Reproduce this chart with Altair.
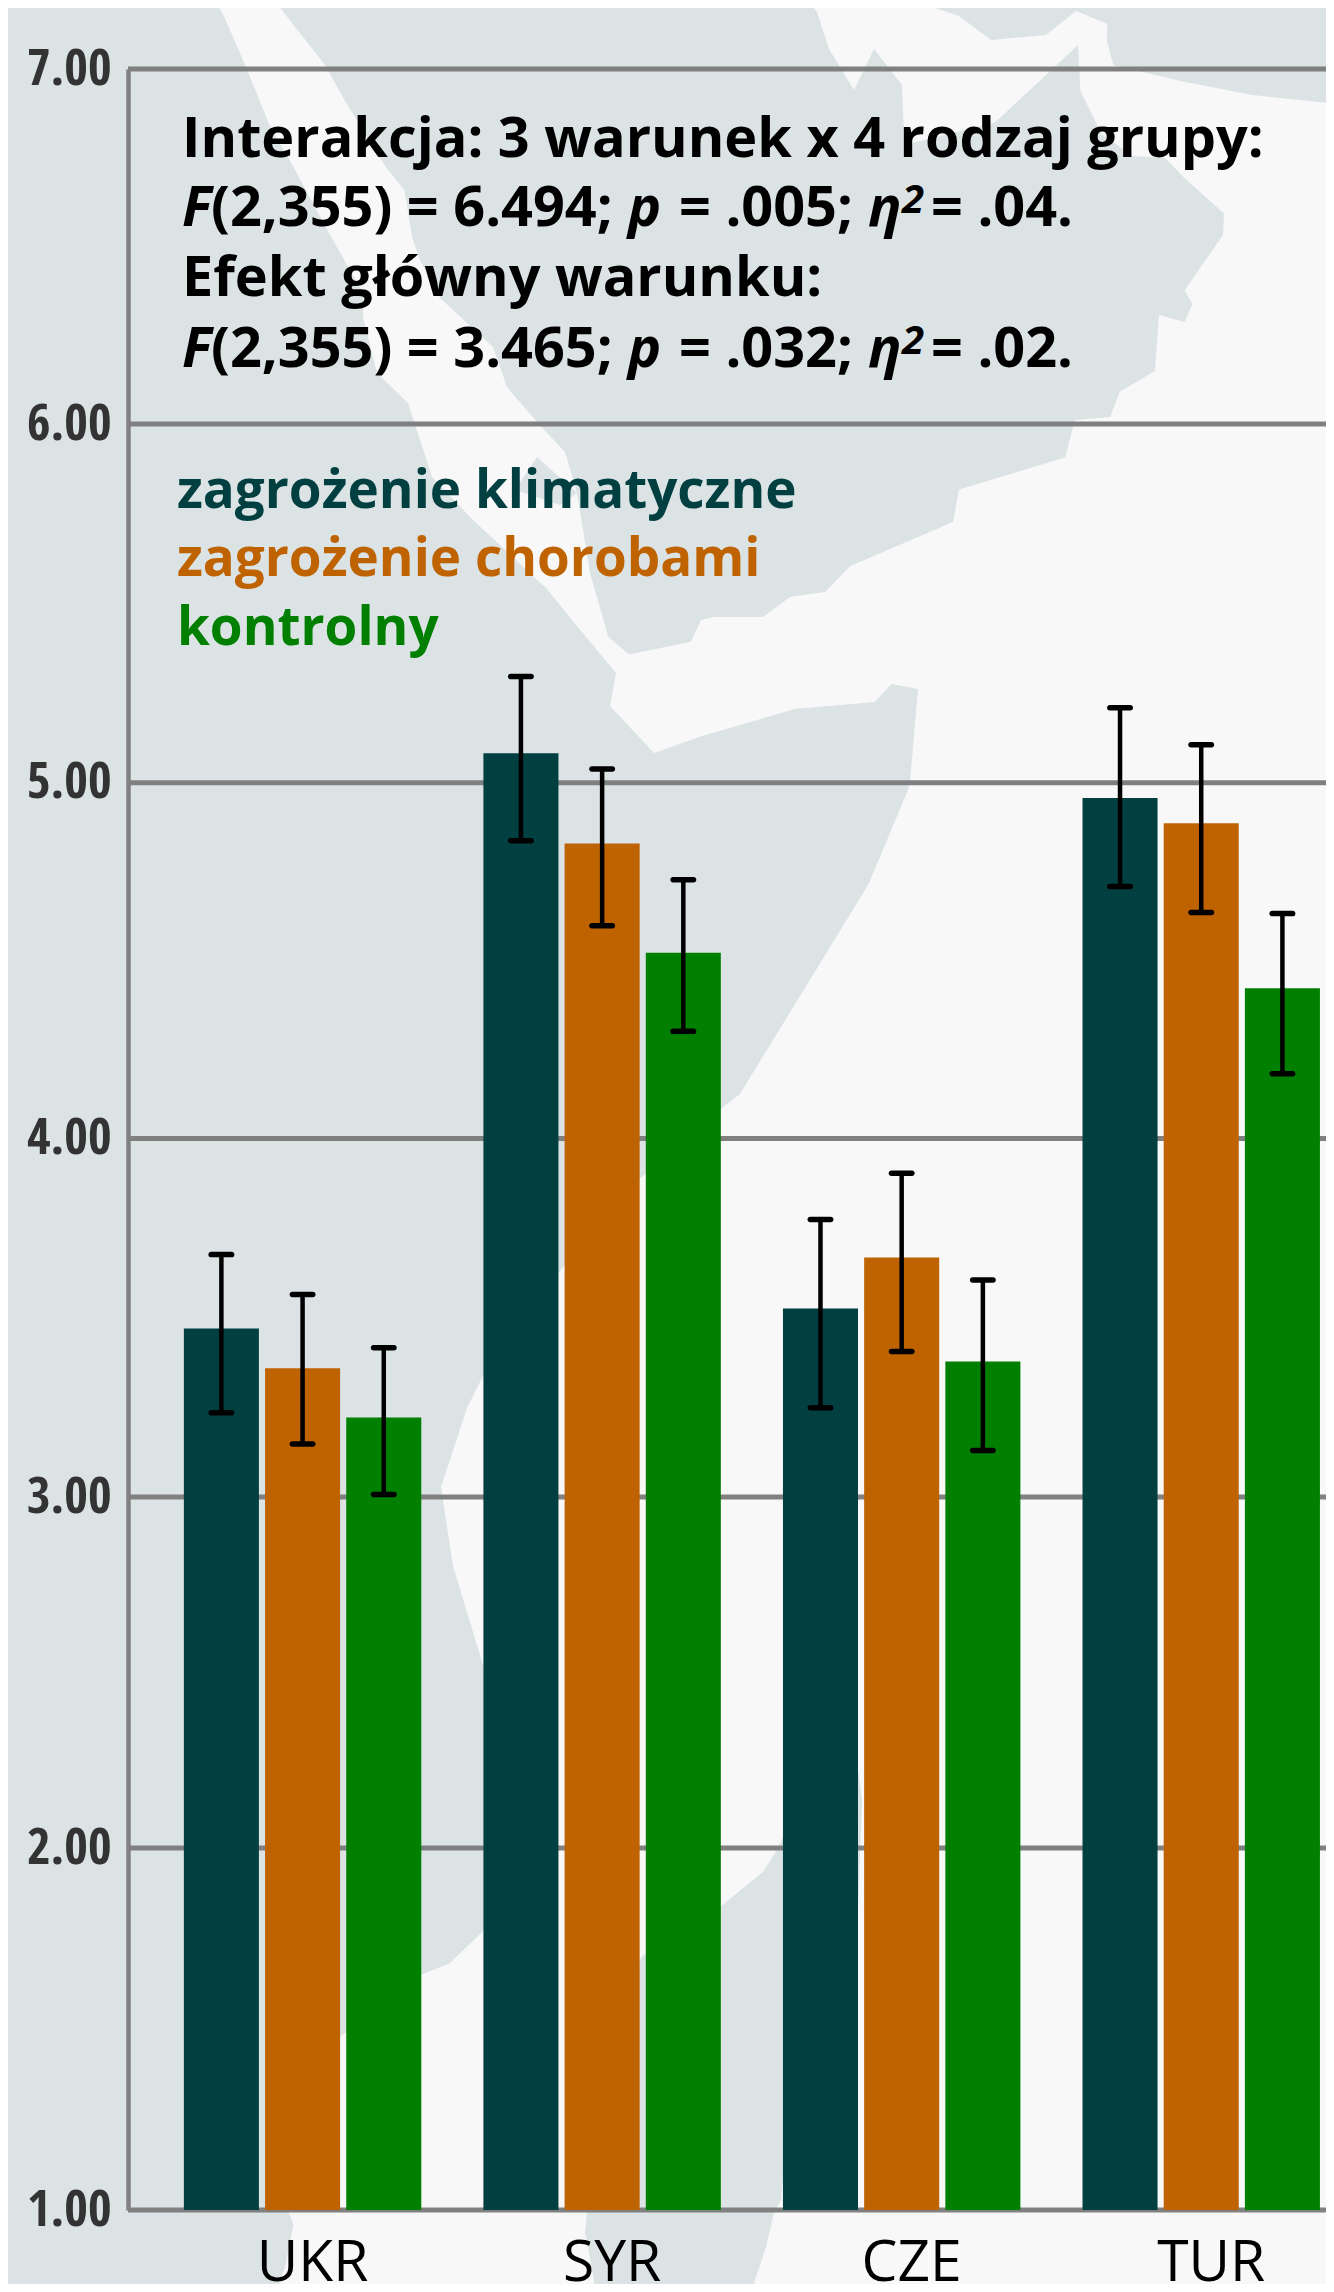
import altair as alt
import pandas as pd

# Chart data
countries = ["UKR", "SYR", "CZE", "TUR"]
conditions = ["zagrożenie klimatyczne", "zagrożenie chorobami", "kontrolny"]
colors = ["#023f40", "#bf6200", "#007f00"]
means = {
    "UKR": [3.470, 3.359, 3.222],
    "SYR": [5.082, 4.829, 4.522],
    "CZE": [3.526, 3.668, 3.378],
    "TUR": [4.957, 4.886, 4.422],
}
upper = {
    "UKR": [3.676, 3.565, 3.416],
    "SYR": [5.296, 5.038, 4.727],
    "CZE": [3.774, 3.903, 3.605],
    "TUR": [5.209, 5.106, 4.632],
}
lower = {
    "UKR": [3.235, 3.148, 3.007],
    "SYR": [4.837, 4.598, 4.301],
    "CZE": [3.249, 3.406, 3.130],
    "TUR": [4.708, 4.635, 4.182],
}
y_ticks = [1, 2, 3, 4, 5, 6, 7]

# Layout (plot origin on the page)
ORIGIN_X, ORIGIN_Y = 128, 69
PLOT_W, PLOT_H = 1198, 2141
tick_rows = [2141, 1779, 1428, 1069.4, 713.7, 355, 0]

# Background map outlines, page coordinates
land_west = [(214.7,0),(223,14),(246,67),(270,126.5),(294,168),(329,233),(363,293),(363,317),(377,373),(408,403),
             (432,477),(473,520),(547,589),(572,620),(616,673),(610,706),(654,753),(700.5,736.6),(794.6,709),
             (874.5,702),(891.5,684),(918,689),(910,782),(908,790),(868.6,884),(740,1094),(720,1109.5),(639,1179.5),
             (564,1266),(483,1376),(467,1408),(441,1487),(453,1566),(483,1665),(510,1800),(510,1880),(483,1931),
             (450,1963),(421,1975),(340,2037),(289,2213),(293.5,2225),(285,2267),(276.6,2292),(0,2292),(0,0)]
land_centre = [(274,0),(325,65),(345,101),(385,166),(404.5,190),(412,237),(420,260),(440,298),(493,347),(507,387),
               (537,422),(565,452),(577,493),(590,573),(603.6,620),(608,636.6),(629,654.4),(691,641.7),(701,620),
               (714,617),(763,617),(790,597),(825,592),(850.4,566),(953,522),(959,489.5),(1065,457.5),(1075,420),
               (1110,417),(1120,391.5),(1155,371),(1159,315),(1184.5,322),(1192.5,303.7),(1184.5,290.6),(1223,235),
               (1224,213.5),(1184.5,178),(1165,158),(1133,156),(1101.5,134),(1080.5,91),(1078,45),(995,122.6),
               (912,143),(904,134),(902,85),(874,49),(854,90),(829,49),(817,12),(807,0)]
land_north = [(919.6,0),(929.5,6),(959,16),(991,40),(1046,35),(1076,11),(1107.4,24),(1106.7,40),(1113.4,65),
              (1180.6,81),(1251.8,95),(1334,103.6),(1334,0)]
land_south = [(721,1906),(763,1872),(777,1850),(800,1800),(858,1770),(862,1800),(858,1910),(783,2177),(781,2200),
              (774,2213),(766,2247),(751,2292),(596,2292),(589,2253),(585,2233),(587,2213),(600,2100),(641,1957)]
land_islet = [(537,457),(577,493),(560,505),(515,490)]

# Annotation text: (text, page x, page baseline y, font size, italic, colour)
BODY = 55.8
notes = [
    ("Interakcja: 3 warunek x 4 rodzaj grupy:", 182, 157, BODY, False, "#000000"),
    ("F", 182, 226, BODY, True, "#000000"),
    ("(2,355) = 6.494;", 211, 226, BODY, False, "#000000"),
    ("p", 628, 226, BODY, True, "#000000"),
    ("= .005;", 679, 226, BODY, False, "#000000"),
    ("η", 868, 226, BODY, True, "#000000"),
    ("2", 902, 213, 40, True, "#000000"),
    ("= .04.", 931, 226, BODY, False, "#000000"),
    ("Efekt główny warunku:", 182, 296, BODY, False, "#000000"),
    ("F", 182, 367, BODY, True, "#000000"),
    ("(2,355) = 3.465;", 211, 367, BODY, False, "#000000"),
    ("p", 628, 367, BODY, True, "#000000"),
    ("= .032;", 679, 367, BODY, False, "#000000"),
    ("η", 868, 367, BODY, True, "#000000"),
    ("2", 902, 354, 40, True, "#000000"),
    ("= .02.", 931, 367, BODY, False, "#000000"),
    (conditions[0], 177, 508, 53, False, colors[0]),
    (conditions[1], 177, 576, 53, False, colors[1]),
    (conditions[2], 177, 645, 53, False, colors[2]),
]

rows = []
for c in countries:
    for i, cond in enumerate(conditions):
        rows.append({"country": c, "cond": cond, "mean": means[c][i], "hi": upper[c][i], "lo": lower[c][i]})
df = pd.DataFrame(rows)

def feature(poly):
    ring = [[x - ORIGIN_X, y - ORIGIN_Y] for x, y in poly]
    ring.append(ring[0])
    return {"type": "Feature", "properties": {}, "geometry": {"type": "Polygon", "coordinates": [ring]}}

geo = alt.Chart(alt.Data(values=[feature(p) for p in (land_west, land_centre, land_north, land_south, land_islet)])
                ).mark_geoshape(fill="#dbe3e5", stroke=None, clip=False).project(type="identity", scale=1, translate=[0, 0])

y_scale = alt.Scale(domain=y_ticks, range=tick_rows)
x_scale = alt.Scale(domain=countries, range=[24.8, 1223], paddingInner=0.2074, paddingOuter=0.1037)
off_scale = alt.Scale(domain=conditions, paddingInner=0.0758, paddingOuter=0)

x_axis = alt.Axis(domain=False, ticks=False, labelAngle=0, labelFont="Open Sans", labelFontSize=57,
                  labelFontWeight="normal", labelColor="#000000", labelPadding=70, labelOffset=10,
                  labelBaseline="alphabetic", zindex=1, grid=False, title=None)
y_axis = alt.Axis(values=y_ticks, format=".2f", grid=False, ticks=False, domain=True,
                  domainColor="#808080", domainWidth=4.5,
                  labelFont="Open Sans Condensed, Noto Sans Condensed, Roboto Condensed, DejaVu Sans Condensed, Open Sans",
                  labelFontWeight="bold", labelFontSize=51, labelColor="#333333", labelPadding=17,
                  zindex=1, title=None)

x_enc = alt.X("country:N", scale=x_scale, axis=x_axis)
off_enc = alt.XOffset("cond:N", scale=off_scale)

grid = alt.Chart(pd.DataFrame({"t": y_ticks})).mark_rule(color="#808080", strokeWidth=5).encode(
    y=alt.Y("t:Q", scale=y_scale, axis=y_axis), x=alt.value(0), x2=alt.value(PLOT_W))

bars = alt.Chart(df).mark_bar().encode(
    x=x_enc, xOffset=off_enc, y=alt.Y("mean:Q", scale=y_scale, axis=y_axis), y2=alt.datum(1),
    color=alt.Color("cond:N", scale=alt.Scale(domain=conditions, range=colors), legend=None))

err = alt.Chart(df).mark_rule(color="#000000", strokeWidth=4.5).encode(
    x=x_enc, xOffset=off_enc, y=alt.Y("lo:Q", scale=y_scale, axis=y_axis), y2="hi:Q")
cap_hi = alt.Chart(df).mark_tick(color="#000000", thickness=5.5, size=26, cornerRadius=2.7, opacity=1).encode(
    x=x_enc, xOffset=off_enc, y=alt.Y("hi:Q", scale=y_scale, axis=y_axis))
cap_lo = alt.Chart(df).mark_tick(color="#000000", thickness=5.5, size=26, cornerRadius=2.7, opacity=1).encode(
    x=x_enc, xOffset=off_enc, y=alt.Y("lo:Q", scale=y_scale, axis=y_axis))

one_row = alt.Data(values=[{"k": 0}])
texts = []
for t, px, py, size, italic, col in notes:
    texts.append(
        alt.Chart(one_row).mark_text(align="left", baseline="alphabetic", font="Open Sans", fontWeight="bold",
                                     fontStyle="italic" if italic else "normal", fontSize=size, color=col).encode(
            x=alt.value(px - ORIGIN_X), y=alt.value(py - ORIGIN_Y), text=alt.value(t))
    )

chart = alt.layer(geo, grid, bars, err, cap_hi, cap_lo, *texts).properties(
    width=PLOT_W, height=PLOT_H,
    padding={"left": 120, "top": 61, "right": 0, "bottom": 74},
    autosize=alt.AutoSizeParams(type="none"),
    background="#f8f8f8",
).configure_view(stroke=None)

chart.save("out.html", embed_options={"renderer": "svg", "actions": False})
